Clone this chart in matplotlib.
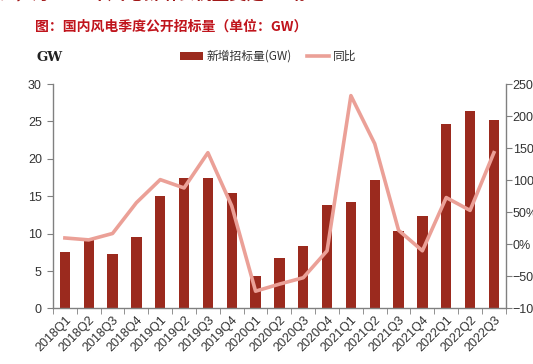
import matplotlib
matplotlib.use("Agg")
import matplotlib.pyplot as plt
import numpy as np
from matplotlib.ticker import FuncFormatter

plt.rcParams['font.family'] = ['Noto Sans CJK SC', 'DejaVu Sans']

categories = ["2018Q1", "2018Q2", "2018Q3", "2018Q4", "2019Q1", "2019Q2", "2019Q3", "2019Q4",
              "2020Q1", "2020Q2", "2020Q3", "2020Q4", "2021Q1", "2021Q2", "2021Q3", "2021Q4",
              "2022Q1", "2022Q2", "2022Q3"]
bids_gw = [7.5, 9.3, 7.3, 9.6, 15.0, 17.4, 17.5, 15.4, 4.3, 6.7, 8.3, 13.8, 14.2, 17.2,
           10.4, 12.3, 24.7, 26.4, 25.2]
yoy_pct = [10, 7, 17, 65, 101, 88, 143, 60, -73, -62, -52, -10, 232, 157, 22, -10, 73, 53, 143]

bar_color = "#9B2A1E"
line_color = "#EBA097"
title_color = "#C0141C"

fig = plt.figure(figsize=(5.33, 3.64), dpi=100)
ax = fig.add_axes([0.0994, 0.1525, 0.8496, 0.6165])
ax2 = ax.twinx()

x = np.arange(len(categories))
bars = ax.bar(x, bids_gw, width=0.43, color=bar_color, zorder=2, label="新增招标量(GW)")
line, = ax2.plot(x, yoy_pct, color=line_color, lw=2.6, zorder=3, label="同比")

ax.set_xlim(-0.5, len(categories) - 0.5)
ax.set_ylim(0, 30)
ax.set_yticks(np.arange(0, 31, 5))
ax2.set_ylim(-100, 250)
ax2.set_yticks(np.arange(-100, 251, 50))
ax2.yaxis.set_major_formatter(FuncFormatter(lambda v, p: f"{int(v)}%".replace("-", "\u2212")))

ax.set_xticks(x)
ax.set_xticklabels(categories, rotation=45, ha="right", rotation_mode="anchor",
                   fontsize=9, color="#333333", family="Liberation Sans")
ax.set_xticks(np.arange(-0.5, len(categories), 1), minor=True)
ax.tick_params(axis="x", which="major", length=0, pad=4)
ax.tick_params(axis="x", which="minor", length=4, color="#808080", direction="out")

for a in (ax, ax2):
    for s in a.spines.values():
        s.set_color("#808080")
        s.set_linewidth(1.0)
    a.spines["top"].set_visible(False)
ax.spines["right"].set_visible(False)
ax2.spines["left"].set_visible(False)
ax2.spines["bottom"].set_visible(False)

ax.tick_params(axis="y", length=4, color="#808080", labelsize=9, labelcolor="#333333", pad=4)
ax2.tick_params(axis="y", length=4, color="#808080", labelsize=9, labelcolor="#333333", pad=1)
for t in ax.get_yticklabels() + ax2.get_yticklabels():
    t.set_family("Liberation Sans")

# header texts
fig.text(-0.005, 1.018, "长，为2023年风电新增装机量奠定基础。", fontsize=12.5, fontweight="bold",
         color="#A01818", ha="left", va="center")
fig.text(0.065, 0.928, "图：国内风电季度公开招标量（单位：GW）", fontsize=10, fontweight="bold",
         color=title_color, ha="left", va="center")
fig.text(0.069, 0.843, "GW", fontsize=9.5, fontweight="bold", family="DejaVu Serif",
         color="#222222", ha="left", va="center")

leg = fig.legend(handles=[bars, line], labels=["新增招标量(GW)", "同比"], loc="center left",
                 bbox_to_anchor=(0.318, 0.845), ncol=2, frameon=False, fontsize=8.5,
                 handlelength=1.9, handleheight=0.6, columnspacing=1.3, handletextpad=0.3)
for t in leg.get_texts():
    t.set_color("#333333")

fig.savefig("out.png", dpi=100)
